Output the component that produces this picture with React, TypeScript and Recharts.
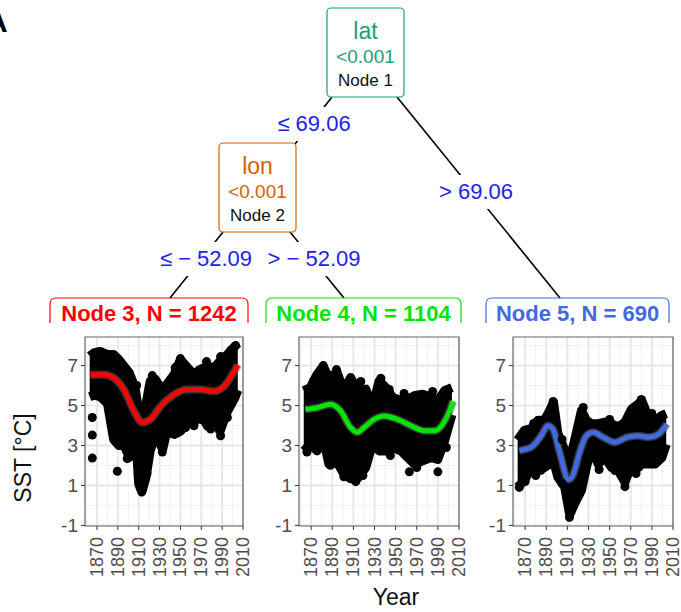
import { ComposedChart, Area, Line, Scatter, XAxis, YAxis, CartesianGrid, ReferenceArea } from 'recharts'

const FONT = '"Liberation Sans", Arial, Helvetica, sans-serif'

const X_DOMAIN = [1858.5, 2010]
const Y_DOMAIN = [-1.03, 8.43]
const X_MAJOR = [1870, 1890, 1910, 1930, 1950, 1970, 1990, 2010]
const X_MINOR = [1860, 1880, 1900, 1920, 1940, 1960, 1980, 2000]
const Y_MAJOR = [-1, 1, 3, 5, 7]
const Y_MINOR = [0, 2, 4, 6, 8]

// Node 3 (lat <= 69.06, lon <= -52.09)
const n3Years = [1863, 1867, 1873, 1880, 1886, 1891, 1896, 1901, 1904, 1907, 1910, 1913, 1917, 1921, 1926, 1933, 1937, 1944, 1950, 1957, 1963, 1969, 1976, 1982, 1988, 1995, 2002, 2005]
const n3High = [7.47, 7.63, 7.71, 7.55, 7.55, 7.3, 6.97, 6.64, 6.23, 5.74, 4.67, 4.34, 5.08, 6.23, 6.31, 5.74, 6.07, 6.56, 7.3, 6.89, 6.56, 6.81, 6.97, 6.89, 7.22, 7.55, 7.96, 7.8]
const n3Low = [5.44, 5.52, 5.44, 5.11, 3.3, 3.0, 3.0, 2.4, 2.89, 3.55, 1.08, 0.67, 1.41, 2.73, 3.55, 2.81, 3.71, 3.55, 3.71, 4.13, 4.13, 4.62, 3.96, 4.21, 3.71, 4.7, 5.36, 5.77]
const n3PtYears = [1865.5, 1865.5, 1865.5, 1889.5, 1899, 1932.6, 1942, 1963, 1979, 1988.5, 2003, 1950, 1923, 1988.5, 1998, 1908, 1945, 1975, 1918, 1928, 1955, 1970, 1995]
const n3PtVals = [4.4, 3.52, 2.37, 1.71, 2.34, 2.67, 3.82, 3.99, 3.82, 3.49, 8.0, 7.35, 6.5, 7.45, 7.75, 6.0, 6.9, 7.2, 1.6, 3.2, 3.9, 4.3, 4.4]
const n3FitYears = [1863.9, 1876.7, 1886.3, 1895.8, 1905.4, 1913.4, 1921.4, 1931, 1943.8, 1956.5, 1969.3, 1982.1, 1991.7, 1999.7, 2005.1]
const n3FitVals = [6.54, 6.54, 6.37, 5.8, 4.73, 4.15, 4.31, 4.97, 5.55, 5.8, 5.8, 5.71, 5.96, 6.54, 7.03]

// Node 4 (lat <= 69.06, lon > -52.09)
const n4Years = [1863, 1869.3, 1875.6, 1881.4, 1886.8, 1894.7, 1901, 1907.4, 1913.7, 1921.7, 1928, 1934.4, 1940.7, 1947.1, 1955, 1961.4, 1967.7, 1975.6, 1983.6, 1989.9, 1996.3, 2003.3]
const n4High = [5.74, 5.9, 6.56, 6.97, 6.4, 6.64, 5.74, 6.4, 5.74, 5.82, 4.92, 6.23, 5.9, 5.41, 5.25, 5.33, 5.49, 5.57, 5.41, 5.25, 5.74, 5.9]
const n4Low = [2.73, 3.06, 2.73, 3.38, 2.07, 2.15, 1.57, 1.33, 1.33, 1.9, 3.06, 2.73, 2.73, 2.89, 2.73, 2.4, 2.07, 2.23, 2.4, 2.3, 3.22, 4.54]
const n4PtYears = [1866, 1888.3, 1901, 1912.2, 1963, 1990, 1936, 1881.5, 1894, 1872, 1903, 1917, 1944, 1958, 1985, 1919, 1945, 1970, 1998]
const n4PtVals = [2.67, 2.01, 1.43, 1.19, 1.68, 1.68, 6.37, 7.0, 6.8, 6.2, 6.1, 6.2, 5.8, 5.6, 5.7, 1.5, 2.5, 1.9, 2.9]
const n4FitYears = [1864.5, 1875.6, 1888.3, 1897.9, 1907.4, 1913.7, 1920.1, 1929.6, 1939.1, 1951.8, 1964.5, 1977.2, 1986.8, 1994.7, 2001, 2004.2]
const n4FitVals = [4.81, 4.89, 5.06, 4.73, 3.9, 3.66, 3.9, 4.31, 4.48, 4.31, 3.99, 3.74, 3.74, 4.07, 4.73, 5.22]

// Node 5 (lat > 69.06)
const n5Years = [1862.9, 1869.3, 1875.6, 1882, 1888.3, 1893.1, 1896.9, 1901, 1907.4, 1912.2, 1916.9, 1923.3, 1928, 1932.8, 1939.1, 1945.5, 1951.8, 1958.2, 1964.5, 1970.9, 1977.2, 1980.4, 1986.8, 1993.1, 1999.5, 2003.6]
const n5High = [3.27, 3.76, 3.85, 4.26, 4.26, 4.75, 5.16, 3.6, 2.78, 2.28, 3.27, 4.75, 4.26, 4.09, 4.09, 4.17, 4.09, 3.93, 4.17, 4.83, 5.08, 5.25, 4.42, 4.26, 4.5, 4.59]
const n5Low = [0.92, 1.24, 1.9, 1.74, 1.9, 2.07, 2.23, 1.41, 0.92, -0.48, 0.09, 0.75, 1.9, 2.89, 2.07, 2.4, 1.9, 1.74, 1.16, 2.07, 1.9, 2.07, 2.07, 2.07, 2.4, 3.06]
const n5PtYears = [1864.5, 1964.5, 1885, 1896.5, 1980, 1912, 1870, 1878, 1905, 1925, 1950, 1968, 1990, 1880, 1905, 1940, 1955, 1975]
const n5PtVals = [0.9, 0.94, 1.76, 5.2, 5.3, -0.6, 1.2, 4.1, 3.3, 4.9, 4.3, 4.5, 4.6, 1.5, 1.1, 1.8, 1.75, 1.6]
const n5FitYears = [1864.5, 1875.6, 1885.2, 1891.5, 1896.3, 1902.6, 1911, 1915.3, 1921.7, 1928, 1934.4, 1943.9, 1955, 1966.1, 1977.2, 1986.8, 1996.3, 2004.2]
const n5FitVals = [2.75, 2.91, 3.49, 3.99, 3.82, 2.67, 1.3, 1.52, 2.67, 3.49, 3.66, 3.41, 3.16, 3.41, 3.49, 3.41, 3.57, 4.07]

const band = (years: number[], lo: number[], hi: number[]) => years.map((year, i) => ({ year, range: [lo[i], hi[i]] }))
const pts = (years: number[], vals: number[]) => years.map((year, i) => ({ year, v: vals[i] }))

// panel geometry
const PLOT_TOP = 337
const PLOT_H = 189
const YW = 45
const MT = 5
const MR = 12
const XH = 56
const PLOT_BOTTOM = MT + PLOT_H

const XTick = (props: any) => {
  const { x, payload } = props
  const y0 = PLOT_BOTTOM
  return (
    <g>
      <line x1={x} x2={x} y1={y0} y2={y0 + 4} stroke="#333" strokeWidth={1} />
      <text x={x} y={y0 + 11} transform={`rotate(-90 ${x} ${y0 + 11})`} textAnchor="end" dominantBaseline="central"
        fontFamily={FONT} fontSize={18} fill="#4d4d4d">{payload.value}</text>
    </g>
  )
}

const YTick = (props: any) => {
  const { y, payload } = props
  return (
    <g>
      <line x1={YW - 4} x2={YW} y1={y} y2={y} stroke="#333" strokeWidth={1} />
      <text x={YW - 7} y={y} textAnchor="end" dominantBaseline="central"
        fontFamily={FONT} fontSize={19} fill="#4d4d4d">{payload.value}</text>
    </g>
  )
}

interface PanelProps {
  left: number
  width: number
  color: string
  body: { year: number, range: number[] }[]
  dots: { year: number, v: number }[]
  fit: { year: number, v: number }[]
}

function Panel({ left, width, color, body, dots, fit }: PanelProps) {
  return (
    <div style={{ position: 'absolute', left: left - YW, top: PLOT_TOP - MT }}>
      <ComposedChart width={YW + width + MR} height={MT + PLOT_H + XH} margin={{ top: MT, right: MR, left: 0, bottom: 0 }}>
        <CartesianGrid verticalValues={X_MINOR} horizontalValues={Y_MINOR} stroke="#f0f0f0" strokeWidth={1} />
        <CartesianGrid verticalValues={X_MAJOR} horizontalValues={Y_MAJOR} stroke="#e6e6e6" strokeWidth={1.8} />
        <XAxis type="number" dataKey="year" domain={X_DOMAIN} ticks={X_MAJOR} interval={0} allowDataOverflow
          axisLine={false} tickLine={false} tick={XTick} height={XH} />
        <YAxis type="number" domain={Y_DOMAIN} ticks={Y_MAJOR} interval={0} allowDataOverflow
          axisLine={false} tickLine={false} tick={YTick} width={YW} />
        <Area data={body} dataKey="range" type="linear" stroke="#000" strokeWidth={9} strokeLinejoin="round"
          fill="#000" fillOpacity={1} dot={false} activeDot={false} isAnimationActive={false} />
        <Scatter data={dots} dataKey="v" isAnimationActive={false}
          shape={(p: any) => <circle cx={p.cx} cy={p.cy} r={4.5} fill="#000" />} />
        <Line data={fit} dataKey="v" type="monotone" stroke="#5a5a5a" strokeOpacity={0.6} strokeWidth={8}
          dot={false} activeDot={false} isAnimationActive={false} />
        <Line data={fit} dataKey="v" type="monotone" stroke={color} strokeWidth={5}
          dot={false} activeDot={false} isAnimationActive={false} />
        <ReferenceArea x1={X_DOMAIN[0]} x2={X_DOMAIN[1]} y1={Y_DOMAIN[0]} y2={Y_DOMAIN[1]}
          fill="none" stroke="#666" strokeWidth={1.2} ifOverflow="visible" />
      </ComposedChart>
    </div>
  )
}

const EDGES = [[332, 97, 295, 144], [397, 97, 560, 298], [223, 232, 170, 298], [290, 232, 344, 298]]
const SPLITS = [
  { text: '≤ 69.06', x: 314, y: 131, w: 78 },
  { text: '> 69.06', x: 476, y: 199, w: 78 },
  { text: '≤ − 52.09', x: 206, y: 266, w: 96 },
  { text: '> − 52.09', x: 314, y: 266, w: 96 },
]
const INNER = [
  { name: 'lat', id: 'Node 1', x: 327, y: 8, color: '#1b9e77' },
  { name: 'lon', id: 'Node 2', x: 219, y: 143, color: '#d95f02' },
]
const LEAVES = [
  { label: 'Node 3, N = 1242', x1: 50, x2: 248, color: '#ff0000' },
  { label: 'Node 4, N = 1104', x1: 266, x2: 461, color: '#00e600' },
  { label: 'Node 5, N = 690', x1: 486, x2: 669, color: '#4169e1' },
]

function headerPath(x1: number, x2: number, top: number, bottom: number, r: number) {
  return `M${x1},${bottom} L${x1},${top + r} Q${x1},${top} ${x1 + r},${top} L${x2 - r},${top} Q${x2},${top} ${x2},${top + r} L${x2},${bottom}`
}

export default function App() {
  return (
    <div style={{ position: 'absolute', left: 0, top: 0, width: 681, height: 612, background: '#fff', overflow: 'hidden' }}>
      <Panel left={85} width={158} color="#ff0000" body={band(n3Years, n3Low, n3High)} dots={pts(n3PtYears, n3PtVals)} fit={pts(n3FitYears, n3FitVals)} />
      <Panel left={299} width={160} color="#00e600" body={band(n4Years, n4Low, n4High)} dots={pts(n4PtYears, n4PtVals)} fit={pts(n4FitYears, n4FitVals)} />
      <Panel left={513} width={160} color="#4169e1" body={band(n5Years, n5Low, n5High)} dots={pts(n5PtYears, n5PtVals)} fit={pts(n5FitYears, n5FitVals)} />
      <svg width={681} height={612} style={{ position: 'absolute', left: 0, top: 0, pointerEvents: 'none' }} fontFamily={FONT}>
        <text x={-14} y={32} fontSize={30} fontWeight="bold" fill="#000">A</text>
        {EDGES.map((e, i) => <line key={i} x1={e[0]} y1={e[1]} x2={e[2]} y2={e[3]} stroke="#000" strokeWidth={1.6} />)}
        {SPLITS.map((s, i) => (
          <g key={i}>
            <rect x={s.x - s.w / 2} y={s.y - 24} width={s.w} height={34} fill="#fff" />
            <text x={s.x} y={s.y} textAnchor="middle" fontSize={22} fill="#2121ee">{s.text}</text>
          </g>
        ))}
        {INNER.map((n, i) => (
          <g key={i}>
            <rect x={n.x} y={n.y} width={77} height={89} rx={4} fill="#fff" stroke={n.color} strokeWidth={1.2} />
            <text x={n.x + 38.5} y={n.y + 31} textAnchor="middle" fontSize={23} fill={n.color}>{n.name}</text>
            <text x={n.x + 38.5} y={n.y + 55} textAnchor="middle" fontSize={19} fill={n.color}>&lt;0.001</text>
            <text x={n.x + 38.5} y={n.y + 78} textAnchor="middle" fontSize={17} fill="#111">{n.id}</text>
          </g>
        ))}
        {LEAVES.map((l, i) => (
          <g key={i}>
            <path d={headerPath(l.x1, l.x2, 298, 323, 6)} fill="none" stroke={l.color} strokeWidth={1.2} />
            <text x={(l.x1 + l.x2) / 2} y={321} textAnchor="middle" fontSize={22} fontWeight="bold" fill={l.color}>{l.label}</text>
          </g>
        ))}
        <text transform="translate(31,458) rotate(-90)" textAnchor="middle" fontSize={23} fill="#111">SST [°C]</text>
        <text x={396} y={605} textAnchor="middle" fontSize={23} fill="#111">Year</text>
      </svg>
    </div>
  )
}
